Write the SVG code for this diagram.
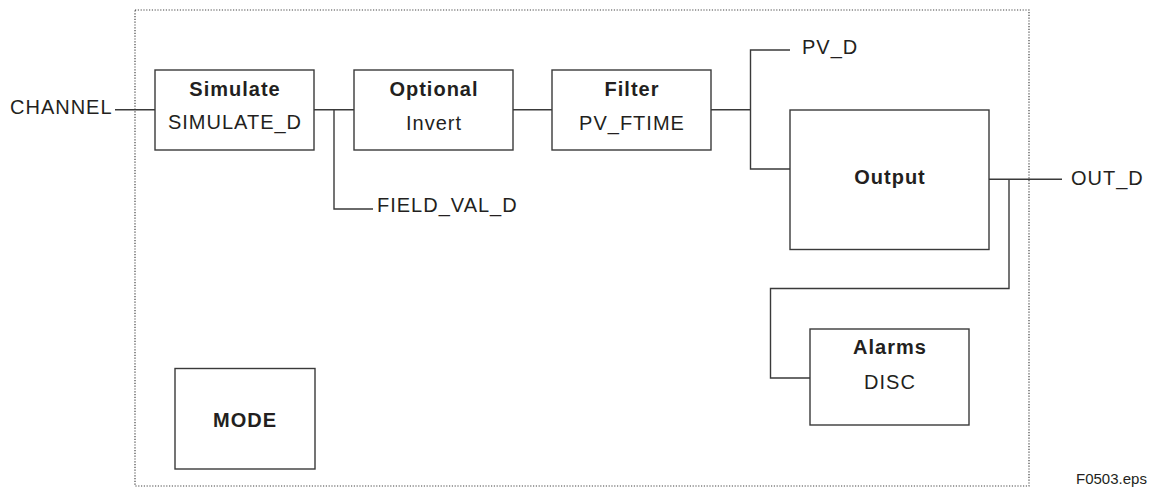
<svg xmlns="http://www.w3.org/2000/svg" width="1150" height="489" viewBox="0 0 1150 489">
<style>
.box{fill:#fff;stroke:#3a3a3a;stroke-width:1.4}
.ln{fill:none;stroke:#3a3a3a;stroke-width:1.4}
.frame{fill:none;stroke:#444;stroke-width:1.2;stroke-dasharray:1.2 1.6}
text{font-family:"Liberation Sans",Arial,sans-serif;font-size:20px;fill:#231f20;letter-spacing:1px}
.b{font-weight:bold}
.m{text-anchor:middle}
.sm{font-size:15px;letter-spacing:0}
</style>
<rect class="frame" x="135" y="10" width="894" height="476"/>
<g id="connectors">
<polyline class="ln" points="115,109.7 155,109.7"/>
<polyline class="ln" points="314,109.7 354,109.7"/>
<polyline class="ln" points="334,109.7 334,209 373,209"/>
<polyline class="ln" points="513,109.7 552,109.7"/>
<polyline class="ln" points="711,109.7 750.5,109.7"/>
<polyline class="ln" points="790,50 750.5,50 750.5,169 790,169"/>
<polyline class="ln" points="989,179.3 1062,179.3"/>
<polyline class="ln" points="1009,179.3 1009,288.5 770.5,288.5 770.5,378 810,378"/>
</g>
<g id="channel"><text x="10" y="114.3">CHANNEL</text></g>
<g id="field_val_d"><text x="377" y="212.3">FIELD_VAL_D</text></g>
<g id="pv_d"><text x="802" y="54">PV_D</text></g>
<g id="out_d"><text x="1071" y="185">OUT_D</text></g>
<g id="simulate">
<rect class="box" x="155" y="70" width="159" height="80"/>
<text class="b m" x="235" y="96">Simulate</text>
<text class="m" x="235" y="129.3">SIMULATE_D</text>
</g>
<g id="optional">
<rect class="box" x="354" y="70" width="159" height="80"/>
<text class="b m" x="434" y="96">Optional</text>
<text class="m" x="434" y="130">Invert</text>
</g>
<g id="filter">
<rect class="box" x="552" y="70" width="159" height="80"/>
<text class="b m" x="632" y="96">Filter</text>
<text class="m" x="632" y="130">PV_FTIME</text>
</g>
<g id="output">
<rect class="box" x="790" y="110" width="199" height="139.5"/>
<text class="b m" x="890" y="184">Output</text>
</g>
<g id="alarms">
<rect class="box" x="810" y="329" width="159" height="96"/>
<text class="b m" x="890" y="354.3">Alarms</text>
<text class="m" x="890" y="389">DISC</text>
</g>
<g id="mode">
<rect class="box" x="175" y="368.5" width="140" height="100.5"/>
<text class="b m" x="245" y="426.7">MODE</text>
</g>
<g id="figure_id"><text class="sm" x="1076" y="484">F0503.eps</text></g>
</svg>
